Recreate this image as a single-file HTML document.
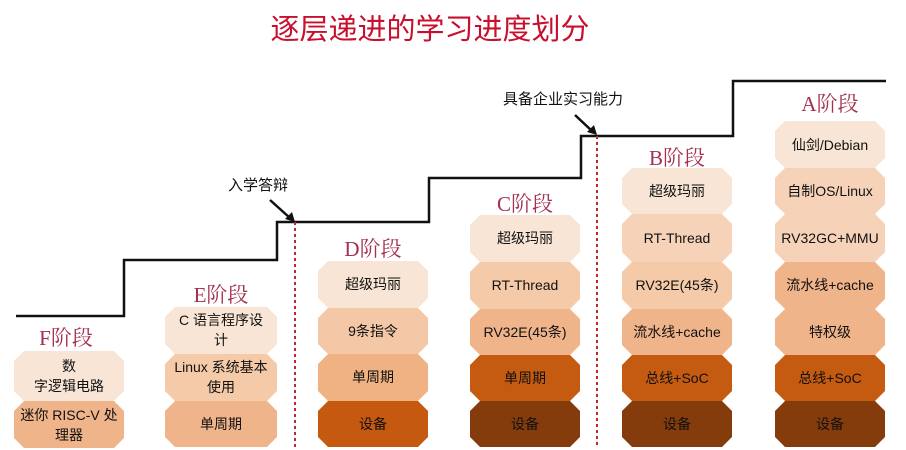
<!DOCTYPE html>
<html><head><meta charset="utf-8"><style>
html,body{margin:0;padding:0;background:#fff;}
svg{display:block;}
.t{font-family:"Liberation Sans","Noto Sans CJK SC",sans-serif;font-size:14px;fill:#111;text-anchor:middle;}
.s{font-family:"Liberation Serif","Noto Serif CJK SC",serif;font-size:21px;fill:#a3304e;text-anchor:middle;}
</style></head><body>
<svg width="906" height="450" viewBox="0 0 906 450" xmlns="http://www.w3.org/2000/svg">
<text x="430" y="39" font-family="Liberation Sans,Noto Sans CJK SC,sans-serif" font-size="29" fill="#c8102e" text-anchor="middle">逐层递进的学习进度划分</text>
<polyline points="16,316 124,316 124,260 277,260 277,222 429,222 429,178 581,178 581,136 733,136 733,81 886,81" fill="none" stroke="#111" stroke-width="2.5"/>
<line x1="295" y1="222" x2="295" y2="447" stroke="#c0282e" stroke-width="2" stroke-dasharray="3,3"/>
<line x1="597" y1="136" x2="597" y2="447" stroke="#c0282e" stroke-width="2" stroke-dasharray="3,3"/>
<line x1="270" y1="200" x2="290" y2="218" stroke="#111" stroke-width="2.5"/>
<polygon points="295,222 285,219 292,212" fill="#111"/>
<line x1="575" y1="115" x2="592" y2="131" stroke="#111" stroke-width="2.5"/>
<polygon points="597,135 587,132 594,125" fill="#111"/>
<text x="258" y="190" class="t" style="font-size:15px">入学答辩</text>
<text x="563" y="104" class="t" style="font-size:15px">具备企业实习能力</text>
<g id="boxes"></g>
</svg>
<script>
</script>
<svg width="0" height="0"></svg>
<div style="position:absolute;left:0;top:0">
<svg width="906" height="450" xmlns="http://www.w3.org/2000/svg">
<defs></defs>
<!-- F -->
<text x="66" y="345" class="s">F阶段</text>
<polygon points="24,351 114,351 124,361 124,391 114,401 24,401 14,391 14,361" fill="#f8e5d5"/>
<text x="69" y="371" class="t">数</text><text x="69" y="391" class="t">字逻辑电路</text>
<polygon points="24,401 114,401 124,411 124,438 114,448 24,448 14,438 14,411" fill="#f0b48a"/>
<text x="69" y="420" class="t">迷你 RISC-V 处</text><text x="69" y="440" class="t">理器</text>
<!-- E -->
<text x="221" y="302" class="s">E阶段</text>
<polygon points="175,307 267,307 277,317 277,344 267,354 175,354 165,344 165,317" fill="#f8e5d5"/>
<text x="221" y="325" class="t">C 语言程序设</text><text x="221" y="345" class="t">计</text>
<polygon points="175,354 267,354 277,364 277,391 267,401 175,401 165,391 165,364" fill="#f4caa8"/>
<text x="221" y="372" class="t">Linux 系统基本</text><text x="221" y="392" class="t">使用</text>
<polygon points="175,401 267,401 277,411 277,437 267,447 175,447 165,437 165,411" fill="#f0b48a"/>
<text x="221" y="429" class="t">单周期</text>
<!-- D -->
<text x="373" y="256" class="s">D阶段</text>
<polygon points="328,261 418,261 428,271 428,298 418,308 328,308 318,298 318,271" fill="#f8e5d5"/>
<text x="373" y="289" class="t">超级玛丽</text>
<polygon points="328,308 418,308 428,318 428,344 418,354 328,354 318,344 318,318" fill="#f4c7a6"/>
<text x="373" y="336" class="t">9条指令</text>
<polygon points="328,354 418,354 428,364 428,391 418,401 328,401 318,391 318,364" fill="#f0b183"/>
<text x="373" y="382" class="t">单周期</text>
<polygon points="328,401 418,401 428,411 428,437 418,447 328,447 318,437 318,411" fill="#c5590f"/>
<text x="373" y="429" class="t">设备</text>
</svg></div>
<div style="position:absolute;left:0;top:0">
<svg width="906" height="450" xmlns="http://www.w3.org/2000/svg">
<!-- C -->
<text x="525" y="211" class="s">C阶段</text>
<polygon points="480,215 570,215 580,225 580,252 570,262 480,262 470,252 470,225" fill="#f8e5d5"/>
<text x="525" y="243" class="t">超级玛丽</text>
<polygon points="480,262 570,262 580,272 580,299 570,309 480,309 470,299 470,272" fill="#f4caa8"/>
<text x="525" y="290" class="t">RT-Thread</text>
<polygon points="480,309 570,309 580,319 580,345 570,355 480,355 470,345 470,319" fill="#f0b48a"/>
<text x="525" y="337" class="t">RV32E(45条)</text>
<polygon points="480,355 570,355 580,365 580,391 570,401 480,401 470,391 470,365" fill="#c55a11"/>
<text x="525" y="383" class="t">单周期</text>
<polygon points="480,401 570,401 580,411 580,437 570,447 480,447 470,437 470,411" fill="#843c0c"/>
<text x="525" y="429" class="t">设备</text>
<!-- B -->
<text x="677" y="165" class="s">B阶段</text>
<polygon points="632,168 722,168 732,178 732,204 722,214 632,214 622,204 622,178" fill="#f8e5d5"/>
<text x="677" y="196" class="t">超级玛丽</text>
<polygon points="632,214 722,214 732,224 732,252 722,262 632,262 622,252 622,224" fill="#f6d3b8"/>
<text x="677" y="243" class="t">RT-Thread</text>
<polygon points="632,262 722,262 732,272 732,299 722,309 632,309 622,299 622,272" fill="#f4caa8"/>
<text x="677" y="290" class="t">RV32E(45条)</text>
<polygon points="632,309 722,309 732,319 732,345 722,355 632,355 622,345 622,319" fill="#f0b48a"/>
<text x="677" y="337" class="t">流水线+cache</text>
<polygon points="632,355 722,355 732,365 732,391 722,401 632,401 622,391 622,365" fill="#c55a11"/>
<text x="677" y="383" class="t">总线+SoC</text>
<polygon points="632,401 722,401 732,411 732,437 722,447 632,447 622,437 622,411" fill="#843c0c"/>
<text x="677" y="429" class="t">设备</text>
<!-- A -->
<text x="830" y="111" class="s">A阶段</text>
<polygon points="785,121 875,121 885,131 885,158 875,168 785,168 775,158 775,131" fill="#f8e5d5"/>
<text x="830" y="150" class="t">仙剑/Debian</text>
<polygon points="785,168 875,168 885,178 885,204 875,214 785,214 775,204 775,178" fill="#f6d3b8"/>
<text x="830" y="196" class="t">自制OS/Linux</text>
<polygon points="785,214 875,214 885,224 885,252 875,262 785,262 775,252 775,224" fill="#f6d3b8"/>
<text x="830" y="243" class="t">RV32GC+MMU</text>
<polygon points="785,262 875,262 885,272 885,299 875,309 785,309 775,299 775,272" fill="#f0b48a"/>
<text x="830" y="290" class="t">流水线+cache</text>
<polygon points="785,309 875,309 885,319 885,345 875,355 785,355 775,345 775,319" fill="#f0b48a"/>
<text x="830" y="337" class="t">特权级</text>
<polygon points="785,355 875,355 885,365 885,391 875,401 785,401 775,391 775,365" fill="#c55a11"/>
<text x="830" y="383" class="t">总线+SoC</text>
<polygon points="785,401 875,401 885,411 885,437 875,447 785,447 775,437 775,411" fill="#843c0c"/>
<text x="830" y="429" class="t">设备</text>
</svg></div>
</body></html>
